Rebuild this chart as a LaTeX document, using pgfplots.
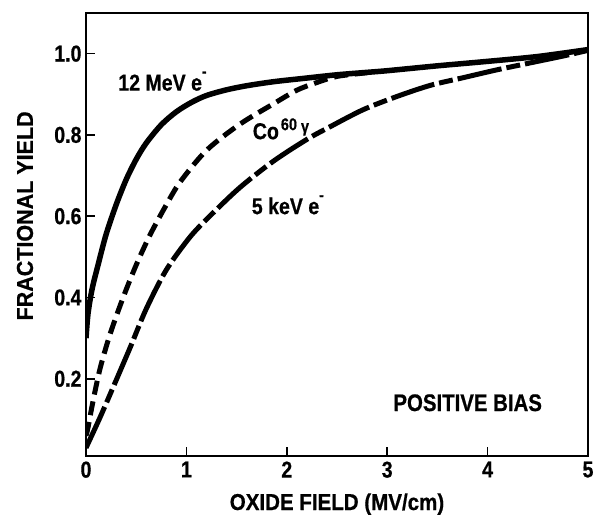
\documentclass[border=0pt]{standalone}
\usepackage{graphicx}
\usepackage{pgfplots}
\pgfplotsset{compat=1.18}
\usepackage{fontspec}
\setmainfont{Liberation Sans}[FakeStretch=0.85, BoldFeatures={FakeBold=0.6}]
\newcommand{\lbl}{\fontsize{23}{27}\selectfont\bfseries}
\begin{document}
\begin{tikzpicture}
\begin{axis}[
  at={(0,0)}, anchor=south west,
  scale only axis, width=502pt, height=443pt,
  xmin=0, xmax=5, ymin=0.01, ymax=1.1,
  axis line style={line width=1.8pt},
  xtick={0,1,2,3,4,5},
  ytick={0.2,0.4,0.6,0.8,1.0},
  yticklabels={0.2,0.4,0.6,0.8,1.0},
  xtick pos=bottom, ytick pos=left,
  tick align=inside,
  major tick length=9pt,
  tick style={line width=1.6pt, black},
  /pgf/number format/assume math mode=true,
  tick label style={font=\lbl},
  xticklabel style={yshift=-2pt},
  yticklabel style={xshift=-1pt},
  label style={font=\lbl},
  xlabel={\scalebox{1.05}[1]{OXIDE FIELD (MV/cm)}},
  ylabel={\scalebox{1.1}[1]{FRACTIONAL YIELD}},
  xlabel style={at={([yshift=-54pt]axis description cs:0.5,0)}, anchor=base},
  ylabel style={at={([xshift=-61pt]axis description cs:0,0.542)}, anchor=center},
]
% Co60 gamma
\addplot[black, line width=5pt, smooth, tension=0.5, dash pattern=on 14pt off 7pt] coordinates {
 (0,0.06) (0.02,0.08) (0.07,0.145) (0.14,0.225) (0.24,0.31) (0.37,0.40)
 (0.5,0.48) (0.64,0.555) (0.8,0.628) (0.94,0.685) (1.2,0.762) (1.53,0.826)
 (1.87,0.877) (2.1,0.91) (2.3,0.929) (2.5,0.944) (2.8,0.953)};
% 5 keV e-
\addplot[black, line width=5pt, smooth, tension=0.5, dash pattern=on 45pt off 5pt on 14pt off 5pt] coordinates {
 (0,0.03) (0.14,0.105) (0.27,0.179) (0.44,0.277) (0.6,0.372) (0.8,0.468)
 (1.03,0.547) (1.22,0.597) (1.53,0.67) (1.87,0.736) (2.2,0.789) (2.43,0.82)
 (2.76,0.862) (3.09,0.894) (3.43,0.922) (3.76,0.941) (4.09,0.96) (4.42,0.977)
 (4.75,0.994) (5,1.008)};
% 12 MeV e-
\addplot[black, line width=5.5pt, smooth, tension=0.5] coordinates {
 (0,0.30) (0.02,0.36) (0.06,0.42) (0.12,0.48) (0.2,0.555) (0.3,0.628)
 (0.4,0.69) (0.5,0.74) (0.6,0.78) (0.75,0.825) (0.9,0.857) (1.05,0.88)
 (1.2,0.897) (1.4,0.911) (1.6,0.921) (1.87,0.931) (2.2,0.94) (2.5,0.948)
 (2.8,0.954) (3.0,0.958) (3.5,0.97) (4.0,0.981) (4.5,0.993) (5,1.01)};
\node[anchor=west, font=\lbl, inner sep=0pt] at (axis cs:0.32,0.932) {12 MeV e\raisebox{0.6em}{\fontsize{16}{16}\selectfont -}};
\node[anchor=west, font=\lbl, inner sep=0pt] at (axis cs:1.66,0.815) {Co\hspace{2pt}\raisebox{9pt}{\fontsize{17}{17}\selectfont\bfseries 60}\hspace{4pt}\raisebox{7pt}{\fontsize{17}{17}\selectfont\bfseries γ}};
\node[anchor=west, font=\lbl, inner sep=0pt] at (axis cs:1.65,0.628) {5 keV e\raisebox{0.6em}{\fontsize{16}{16}\selectfont -}};
\node[anchor=west, font=\fontsize{24}{28}\selectfont\bfseries, inner sep=0pt] at (axis cs:3.06,0.141) {POSITIVE BIAS};
\end{axis}
\pgfresetboundingbox
\path (-86pt,-58pt) rectangle (508pt,456pt);
\end{tikzpicture}
\end{document}
